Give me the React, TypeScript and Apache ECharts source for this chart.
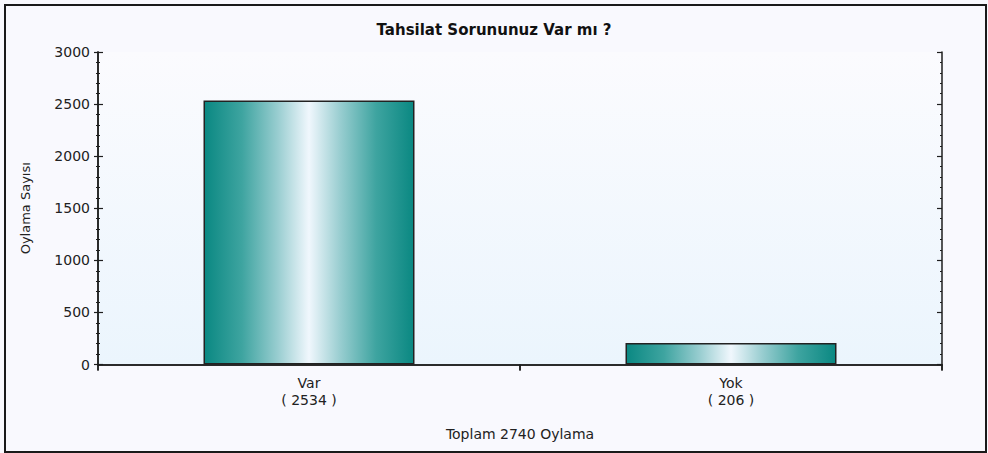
import React, { useEffect, useRef } from "react";
import * as echarts from "echarts";

const TITLE = "Tahsilat Sorununuz Var mı ?";
const Y_NAME = "Oylama Sayısı";
const categories = ["Var", "Yok"];
const votes = [2534, 206];
const yTicks = { min: 0, max: 3000, interval: 500 };

const FONT = "DejaVu Sans";
const INK = "#1e1e1e";

export default function App() {
  const ref = useRef<HTMLDivElement>(null);
  useEffect(() => {
    if (!ref.current) return;
    const chart = echarts.init(ref.current, null, { renderer: "svg" });
    const total = votes.reduce((a, b) => a + b, 0);
    const barFill = new echarts.graphic.LinearGradient(0, 0, 1, 0, [
      { offset: 0, color: "#0a8882" },
      { offset: 0.18, color: "#3ea4a0" },
      { offset: 0.35, color: "#98cdd0" },
      { offset: 0.5, color: "#f0f7fd" },
      { offset: 0.65, color: "#98cdd0" },
      { offset: 0.82, color: "#3ea4a0" },
      { offset: 1, color: "#0a8882" },
    ]);
    const plotBg = new echarts.graphic.LinearGradient(0, 0, 0, 1, [
      { offset: 0, color: "#fbfbfe" },
      { offset: 1, color: "#ebf5fd" },
    ]);
    const valueAxisBase = {
      type: "value" as const,
      min: yTicks.min,
      max: yTicks.max,
      interval: yTicks.interval,
      splitLine: { show: false },
      axisLine: { show: true, lineStyle: { color: INK, width: 1.5 } },
      minorTick: { show: true, splitNumber: 5, length: 2, lineStyle: { color: INK, width: 1 } },
      minorSplitLine: { show: false },
    };
    chart.setOption({
      animation: false,
      backgroundColor: "#f9f9fe",
      title: {
        text: TITLE,
        left: "center",
        top: 17,
        textStyle: { fontFamily: FONT, fontSize: 15, fontWeight: "bold", color: "#111" },
      },
      graphic: [
        {
          type: "rect",
          shape: { x: 5, y: 5, width: 981, height: 447 },
          style: { fill: "none", stroke: "#1a1a1a", lineWidth: 2 },
          silent: true,
        },
      ],
      grid: {
        left: 98,
        right: 46,
        top: 52,
        bottom: 88.5,
        show: true,
        backgroundColor: plotBg,
        borderWidth: 0,
      },
      xAxis: [
        {
          type: "category",
          position: "bottom",
          data: categories,
          axisLine: { show: true, lineStyle: { color: INK, width: 1.5 } },
          axisTick: { show: true, alignWithLabel: false, length: 6, lineStyle: { color: INK, width: 1.5 } },
          axisLabel: {
            fontFamily: FONT,
            fontSize: 14,
            color: "#222",
            lineHeight: 17,
            margin: 10,
            formatter: (v: string, i: number) => `${v}\n( ${votes[i]} )`,
          },
          name: `Toplam ${total} Oylama`,
          nameLocation: "middle",
          nameGap: 62,
          nameTextStyle: { fontFamily: FONT, fontSize: 14, color: "#222" },
        },
        {
          type: "category",
          position: "top",
          data: categories,
          axisLine: { show: true, lineStyle: { color: INK, width: 1.5 } },
          axisTick: { show: true, inside: true, alignWithLabel: false, length: 6, lineStyle: { color: INK, width: 1.5 } },
          axisLabel: { show: false },
        },
      ],
      yAxis: [
        {
          ...valueAxisBase,
          position: "left",
          axisTick: { show: true, length: 4, lineStyle: { color: INK, width: 1.2 } },
          axisLabel: {
            fontFamily: FONT,
            fontSize: 14,
            color: "#222",
            margin: 8,
            formatter: (v: number) => String(v),
          },
          name: Y_NAME,
          nameLocation: "middle",
          nameGap: 66,
          nameRotate: 90,
          nameTextStyle: { fontFamily: FONT, fontSize: 13, color: "#222" },
        },
        {
          ...valueAxisBase,
          position: "right",
          axisTick: { show: true, inside: true, length: 5, lineStyle: { color: INK, width: 1.2 } },
          minorTick: { show: true, splitNumber: 5, length: 2, lineStyle: { color: INK, width: 1 } },
          axisLabel: { show: false },
        },
        {
          ...valueAxisBase,
          position: "left",
          axisTick: { show: true, inside: true, length: 5, lineStyle: { color: INK, width: 1.2 } },
          minorTick: { show: true, splitNumber: 5, length: 2, lineStyle: { color: INK, width: 1 } },
          axisLabel: { show: false },
        },
      ],
      series: [
        {
          type: "bar",
          xAxisIndex: 0,
          yAxisIndex: 0,
          data: votes,
          barWidth: "50%",
          itemStyle: { color: barFill, borderColor: "#222", borderWidth: 1.5 },
        },
      ],
    });
    return () => chart.dispose();
  }, []);
  return (
    <div
      ref={ref}
      style={{ position: "fixed", left: 0, top: 0, width: 988, height: 453 }}
    />
  );
}
